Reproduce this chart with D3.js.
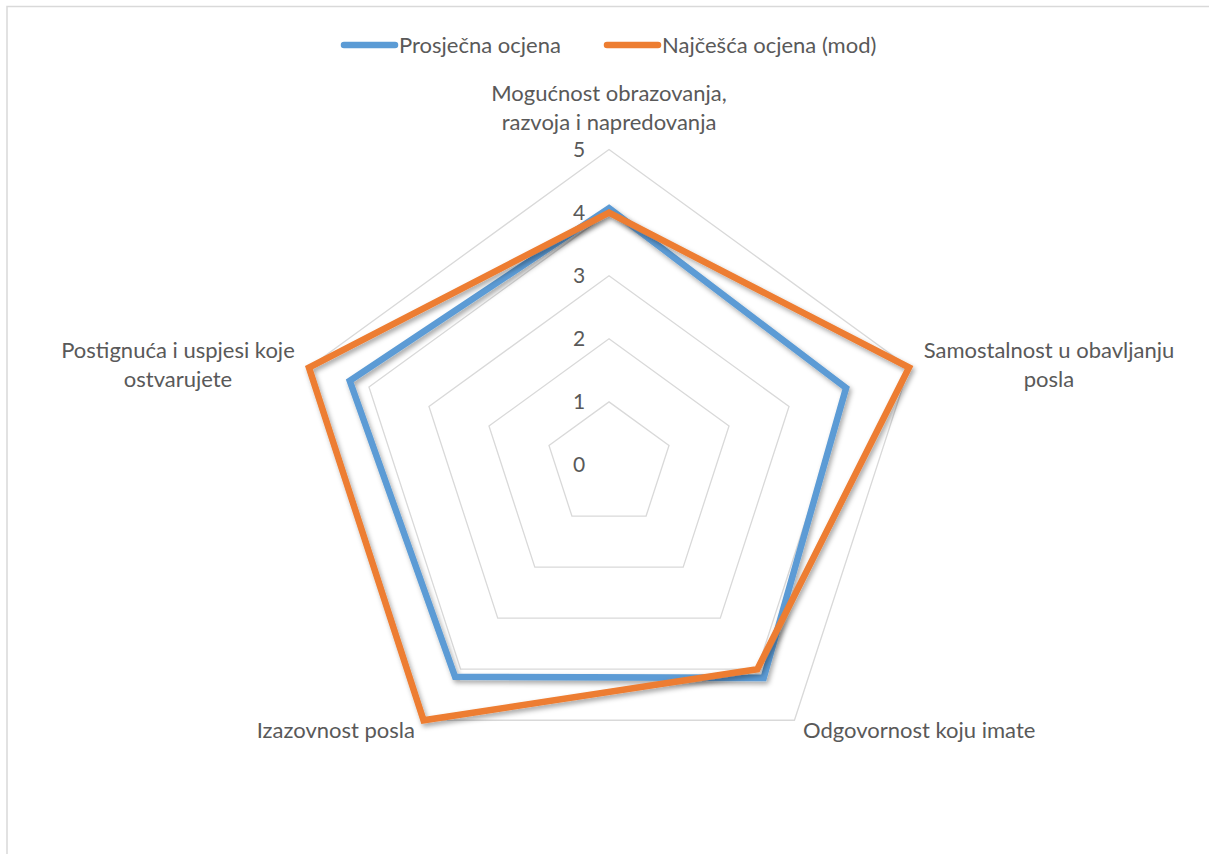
<!DOCTYPE html>
<html>
<head>
<meta charset="utf-8">
<title>Radar chart</title>
<script src="https://cdn.jsdelivr.net/npm/d3@7"></script>
<style>
    body { margin: 0; background: #fff; }
    svg text { font-family: Lato, "Open Sans", sans-serif; fill: #595959; }
</style>
</head>
<body>
<div id="container"></div>
<script>
    // categories (clockwise from the top)
    var categories = [
        ["Mogućnost obrazovanja,", "razvoja i napredovanja"],
        ["Samostalnost u obavljanju", "posla"],
        ["Odgovornost koju imate"],
        ["Izazovnost posla"],
        ["Postignuća i uspjesi koje", "ostvarujete"]
    ];
    var seriesNames = ["Prosječna ocjena", "Najčešća ocjena (mod)"];
    var prosjecna = [4.07, 3.95, 4.17, 4.15, 4.32];
    var mod = [4, 5, 4, 5, 5];
    var levels = [0, 1, 2, 3, 4, 5];

    var colors = ["#5B9BD5", "#ED7D31"];
    var width = 1209, height = 854;
    var cx = 609, cy = 465, radius = 315.5;

    var svg = d3.select("#container").append("svg")
        .attr("width", width)
        .attr("height", height);

    // drop shadow like the original lines
    var defs = svg.append("defs");
    defs.append("filter")
        .attr("id", "shadow")
        .attr("x", "-10%").attr("y", "-10%")
        .attr("width", "120%").attr("height", "120%")
        .append("feDropShadow")
        .attr("dx", 2).attr("dy", 3)
        .attr("stdDeviation", 2.5)
        .attr("flood-color", "#000")
        .attr("flood-opacity", 0.35);

    // chart border
    svg.append("rect")
        .attr("x", 7).attr("y", 6.5)
        .attr("width", width + 20).attr("height", height + 20)
        .attr("fill", "none")
        .attr("stroke", "#D9D9D9")
        .attr("stroke-width", 1.5);

    var r = d3.scaleLinear().domain([0, 5]).range([0, radius]);
    var angle = d3.scaleLinear().domain([0, categories.length]).range([0, 2 * Math.PI]);

    var g = svg.append("g").attr("transform", "translate(" + cx + "," + cy + ")");

    var radial = d3.lineRadial()
        .angle(function (d, i) { return angle(i); })
        .radius(function (d) { return r(d); })
        .curve(d3.curveLinearClosed);

    // grid pentagons
    g.selectAll(".grid")
        .data(levels.slice(1))
        .enter()
        .append("path")
        .attr("class", "grid")
        .attr("d", function (lv) { return radial(categories.map(function () { return lv; })); })
        .attr("fill", "none")
        .attr("stroke", "#D9D9D9")
        .attr("stroke-width", 1.3);

    // level labels
    g.selectAll(".lvl")
        .data(levels)
        .enter()
        .append("text")
        .attr("class", "lvl")
        .attr("x", -30)
        .attr("y", function (d) { return -r(d); })
        .attr("dy", "0.35em")
        .attr("text-anchor", "middle")
        .style("font-size", "21px")
        .text(function (d) { return d; });

    // series
    var series = [prosjecna, mod];
    g.selectAll(".series")
        .data(series)
        .enter()
        .append("path")
        .attr("class", "series")
        .attr("d", function (d) { return radial(d); })
        .attr("fill", "none")
        .attr("stroke", function (d, i) { return colors[i]; })
        .attr("stroke-width", 6.5)
        .attr("stroke-linejoin", "miter")
        .attr("filter", "url(#shadow)");

    // category labels
    var labelPos = [
        { x: 0, y: -372, anchor: "middle" },
        { x: 440, y: -115, anchor: "middle" },
        { x: 194, y: 265, anchor: "start" },
        { x: -194, y: 265, anchor: "end" },
        { x: -431, y: -115, anchor: "middle" }
    ];
    var cat = g.selectAll(".cat")
        .data(categories)
        .enter()
        .append("text")
        .attr("class", "cat")
        .attr("text-anchor", function (d, i) { return labelPos[i].anchor; })
        .style("font-size", "22px");
    cat.selectAll("tspan")
        .data(function (d, i) { return d.map(function (t, j) { return { t: t, j: j, i: i }; }); })
        .enter()
        .append("tspan")
        .attr("x", function (d) { return labelPos[d.i].x; })
        .attr("y", function (d) { return labelPos[d.i].y + d.j * 29; })
        .attr("dy", "0.35em")
        .text(function (d) { return d.t; });

    // legend
    var legendX = [341, 604];
    var legend = svg.selectAll(".legend")
        .data(seriesNames)
        .enter()
        .append("g")
        .attr("class", "legend")
        .attr("transform", function (d, i) { return "translate(" + legendX[i] + ",45)"; });
    legend.append("line")
        .attr("x1", 3).attr("x2", 54)
        .attr("stroke", function (d, i) { return colors[i]; })
        .attr("stroke-width", 6.5)
        .attr("stroke-linecap", "round");
    legend.append("text")
        .attr("x", 58)
        .attr("dy", "0.35em")
        .style("font-size", "22px")
        .text(function (d) { return d; });
</script>
</body>
</html>
